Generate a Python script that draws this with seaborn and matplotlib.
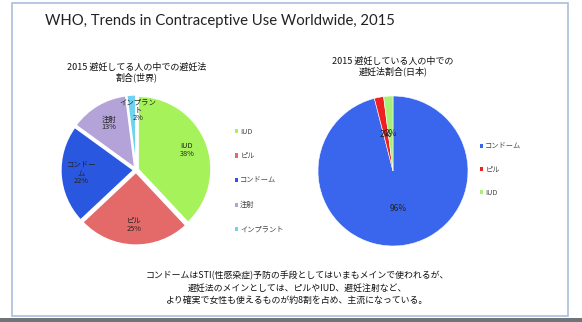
import matplotlib
matplotlib.use("Agg")
import matplotlib.pyplot as plt
from matplotlib.patches import Rectangle, Patch
import seaborn as sns

sns.set_theme(style="white")
plt.rcParams['font.family'] = ['Noto Sans CJK JP', 'DejaVu Sans']

# ---- data ----
world_labels = ["IUD", "ピル", "コンドーム", "注射", "インプラント"]
world_display = ["IUD", "ピル", "コンドー\nム", "注射", "インプラン\nト"]
world_values = [38, 25, 22, 13, 2]
world_colors = ["#a6f25a", "#e46a6a", "#2a57e0", "#b3a3d8", "#6fd3ef"]

japan_labels = ["コンドーム", "ピル", "IUD"]
japan_values = [96, 2, 2]
japan_colors = ["#3a66ee", "#ee2020", "#a6f07a"]

title = "WHO, Trends in Contraceptive Use Worldwide, 2015"
world_title = "2015 避妊してる人の中での避妊法\n割合(世界)"
japan_title = "2015 避妊している人の中での\n避妊法割合(日本)"
note = ("コンドームはSTI(性感染症)予防の手段としてはいまもメインで使われるが、\n"
        "避妊法のメインとしては、ピルやIUD、避妊注射など、\n"
        "より確実で女性も使えるものが約8割を占め、主流になっている。")

W, H = 582, 322
fig = plt.figure(figsize=(W / 100, H / 100), dpi=100)
fig.patch.set_facecolor("white")

# slide frame
fig.patches.append(Rectangle((12 / W, 1 - 316 / H), 556 / W, 313 / H,
                             transform=fig.transFigure, fill=False,
                             edgecolor="#a9bedb", linewidth=1.2))
fig.patches.append(Rectangle((0, 0), 1, 4 / H, transform=fig.transFigure,
                             facecolor="#6f7478", edgecolor="none"))

fig.text(45 / W, 1 - 21 / H, title, fontsize=10.7, color="#222222",
         va="center", ha="left", family=['Lato', 'DejaVu Sans'])


def pie_axes(cx, cy, r):
    half = r * 1.1
    return fig.add_axes([(cx - half) / W, 1 - (cy + half) / H, 2 * half / W, 2 * half / H])


# ---- world pie ----
ax1 = pie_axes(136, 170, 73)
wedges, texts = ax1.pie(world_values, labels=[f"{d}\n{v}%" for d, v in zip(world_display, world_values)],
                        colors=world_colors, startangle=90, counterclock=False,
                        explode=[0.03] * len(world_values), labeldistance=0.72,
                        wedgeprops=dict(edgecolor="white", linewidth=1.2),
                        textprops=dict(fontsize=5.3, color="#222222", ha="center", va="center",
                                       linespacing=0.95))
# nudge the two crowded small-slice labels as in the reference
texts[3].set_position((-0.37, 0.64))
texts[4].set_position((0.03, 0.82))
ax1.set_xlim(-1.1, 1.1)
ax1.set_ylim(-1.1, 1.1)
ax1.set_aspect("equal")
ax1.axis("off")
fig.text(137 / W, 1 - 72 / H, world_title, fontsize=6.5, color="#111111",
         ha="center", va="center", linespacing=1.1)
handles = [Patch(facecolor=c, edgecolor="none") for c in world_colors]
fig.legend(handles, world_labels, loc="upper left", bbox_to_anchor=(228 / W, 1 - 121 / H),
           frameon=False, fontsize=5.2, handlelength=0.5, handleheight=0.5,
           handletextpad=0.3, labelspacing=2.3, labelcolor="#444444")

# ---- japan pie ----
ax2 = pie_axes(393, 171, 75)
ax2.pie(japan_values, colors=japan_colors, startangle=90, counterclock=False,
        autopct="%d%%", pctdistance=0.5,
        wedgeprops=dict(edgecolor="white", linewidth=0.4),
        textprops=dict(fontsize=6, color="#222222"))
ax2.set_xlim(-1.1, 1.1)
ax2.set_ylim(-1.1, 1.1)
ax2.set_aspect("equal")
ax2.axis("off")
fig.text(393 / W, 1 - 66 / H, japan_title, fontsize=6.5, color="#111111",
         ha="center", va="center", linespacing=1.1)
handles2 = [Patch(facecolor=c, edgecolor="none") for c in japan_colors]
fig.legend(handles2, japan_labels, loc="upper left", bbox_to_anchor=(473 / W, 1 - 136 / H),
           frameon=False, fontsize=5.2, handlelength=0.5, handleheight=0.5,
           handletextpad=0.3, labelspacing=2.1, labelcolor="#444444")

fig.text(297 / W, 1 - 288 / H, note, fontsize=6.4, color="#111111",
         ha="center", va="center", linespacing=1.5)

fig.savefig("out.png", dpi=100)
